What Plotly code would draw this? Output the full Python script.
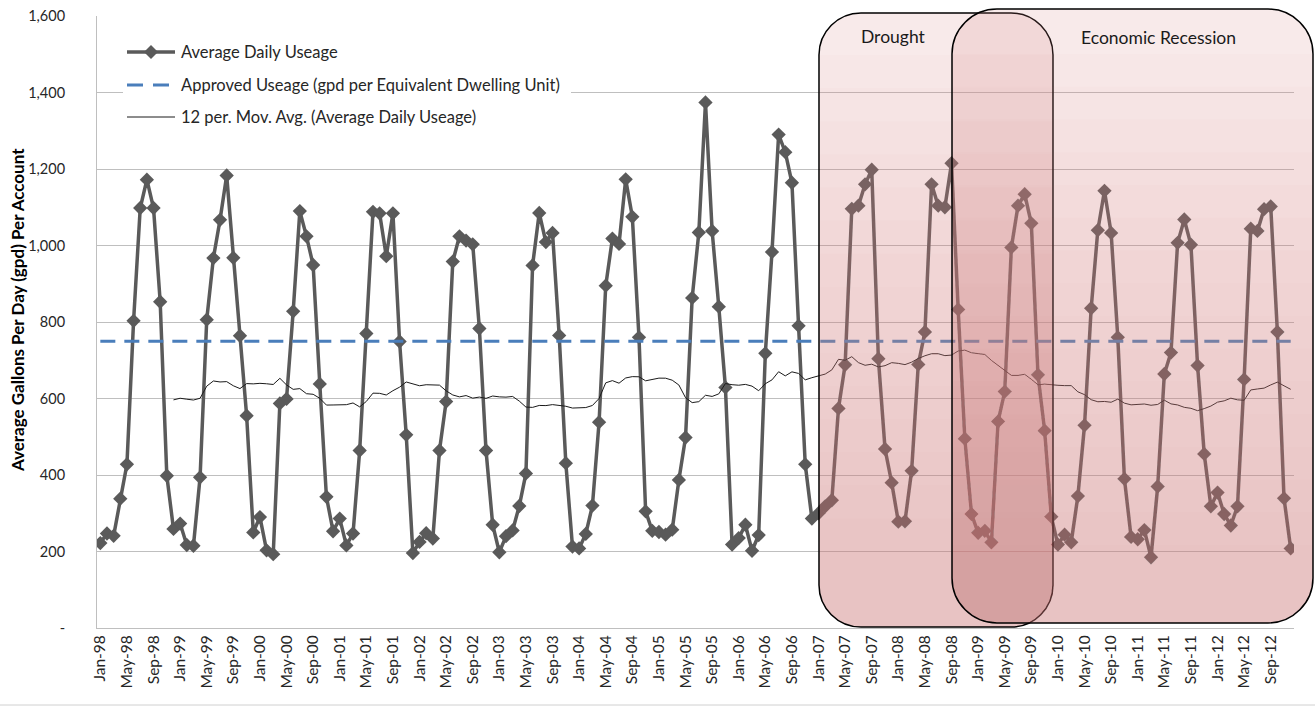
import pandas as pd
import plotly.graph_objects as go

# ---- data -------------------------------------------------------------
MONTHS = pd.date_range("1998-01-01", "2012-12-01", freq="MS").strftime("%b-%y").tolist()
TICK_LABELS = MONTHS[::4]

USAGE_1998 = [222, 247, 241, 338, 428, 803, 1098, 1172, 1098, 853, 398, 259]
USAGE_1999 = [273, 217, 215, 394, 806, 967, 1067, 1183, 968, 764, 555, 250]
USAGE_2000 = [290, 203, 193, 587, 599, 828, 1090, 1024, 949, 638, 343, 253]
USAGE_2001 = [286, 216, 247, 464, 770, 1088, 1084, 972, 1084, 749, 505, 196]
USAGE_2002 = [225, 248, 234, 464, 592, 958, 1024, 1013, 1003, 783, 464, 270]
USAGE_2003 = [198, 240, 255, 319, 404, 948, 1085, 1009, 1033, 765, 431, 213]
USAGE_2004 = [208, 246, 320, 538, 895, 1018, 1004, 1173, 1075, 760, 305, 254]
USAGE_2005 = [251, 244, 257, 387, 498, 863, 1034, 1374, 1038, 840, 629, 218]
USAGE_2006 = [235, 270, 202, 243, 718, 983, 1290, 1244, 1164, 790, 428, 286]
USAGE_2007 = [300, 318, 334, 574, 688, 1096, 1104, 1160, 1198, 704, 468, 380]
USAGE_2008 = [278, 279, 411, 689, 774, 1160, 1104, 1100, 1215, 833, 495, 298]
USAGE_2009 = [249, 254, 224, 540, 618, 995, 1104, 1134, 1058, 662, 516, 291]
USAGE_2010 = [218, 244, 224, 345, 530, 836, 1040, 1143, 1033, 760, 390, 238]
USAGE_2011 = [232, 256, 185, 370, 664, 720, 1007, 1068, 1002, 686, 455, 318]
USAGE_2012 = [354, 298, 268, 318, 650, 1044, 1038, 1095, 1102, 774, 339, 208]

USAGE = (USAGE_1998 + USAGE_1999 + USAGE_2000 + USAGE_2001 + USAGE_2002
         + USAGE_2003 + USAGE_2004 + USAGE_2005 + USAGE_2006 + USAGE_2007
         + USAGE_2008 + USAGE_2009 + USAGE_2010 + USAGE_2011 + USAGE_2012)

APPROVED_GPD = 750
APPROVED = [APPROVED_GPD] * len(MONTHS)

# 12-period moving average trendline of the usage series
MOV_AVG = pd.Series(USAGE, dtype=float).rolling(12).mean().tolist()

Y_TICKS = [0, 200, 400, 600, 800, 1000, 1200, 1400, 1600]
Y_TICK_TEXT = ["-", "200", "400", "600", "800", "1,000", "1,200", "1,400", "1,600"]

# ---- page geometry (pixels) -------------------------------------------
W, H = 1315, 707
ML, MR, MT, MB = 97, 21, 16, 79
PW = W - ML - MR
PH = H - MT - MB
BOTTOM = H - MB

FONT = "Lato"


def paper(x, y):
    return (x - ML) / PW, (BOTTOM - y) / PH


def fmt(pts):
    return " ".join(f"{paper(x, y)[0]:.5f},{paper(x, y)[1]:.5f}" for x, y in pts)


K = 0.5523


def rounded_box(x0, y0, x1, y1, r, top=None):
    """Rounded rectangle path in paper units; if top is given the top edge is flat at that y."""
    parts = []
    if top is None:
        parts.append(f"M {fmt([(x0 + r, y0)])}")
        parts.append(f"L {fmt([(x1 - r, y0)])}")
        parts.append(f"C {fmt([(x1 - r + K * r, y0), (x1, y0 + r - K * r), (x1, y0 + r)])}")
    else:
        parts.append(f"M {fmt([(x0, top)])}")
        parts.append(f"L {fmt([(x1, top)])}")
    parts.append(f"L {fmt([(x1, y1 - r)])}")
    parts.append(f"C {fmt([(x1, y1 - r + K * r), (x1 - r + K * r, y1), (x1 - r, y1)])}")
    parts.append(f"L {fmt([(x0 + r, y1)])}")
    parts.append(f"C {fmt([(x0 + r - K * r, y1), (x0, y1 - r + K * r), (x0, y1 - r)])}")
    if top is None:
        parts.append(f"L {fmt([(x0, y0 + r)])}")
        parts.append(f"C {fmt([(x0, y0 + r - K * r), (x0 + r - K * r, y0), (x0 + r, y0)])}")
    parts.append("Z")
    return " ".join(parts)


def shaded_box(x0, y0, x1, y1, r, steps=16):
    """Pink box that darkens toward the bottom, plus its black outline."""
    out = [dict(type="path", xref="paper", yref="paper", layer="above",
                path=rounded_box(x0, y0, x1, y1, r),
                fillcolor="rgba(215,140,140,0.18)", line=dict(width=0))]
    for i in range(steps):
        t = y0 + r + (y1 - 2 * r - y0) * i / steps
        out.append(dict(type="path", xref="paper", yref="paper", layer="above",
                        path=rounded_box(x0, y0, x1, y1, r, top=t),
                        fillcolor="rgba(215,140,140,0.025)", line=dict(width=0)))
    out.append(dict(type="path", xref="paper", yref="paper", layer="above",
                    path=rounded_box(x0, y0, x1, y1, r),
                    fillcolor="rgba(0,0,0,0)", line=dict(color="black", width=1.5)))
    return out


# ---- traces -----------------------------------------------------------
fig = go.Figure()
fig.add_trace(go.Scatter(
    x=MONTHS, y=USAGE, mode="lines+markers", name="Average Daily Useage",
    line=dict(color="#5a5a5a", width=3.5),
    marker=dict(symbol="diamond", size=11, color="#5a5a5a"),
    showlegend=False))
fig.add_trace(go.Scatter(
    x=MONTHS, y=APPROVED, mode="lines",
    name="Approved Useage (gpd per Equivalent Dwelling Unit)",
    line=dict(color="#4a7ebb", width=3, dash="15px,9px"), showlegend=False))
fig.add_trace(go.Scatter(
    x=MONTHS, y=MOV_AVG, mode="lines",
    name="12 per. Mov. Avg. (Average Daily Useage)",
    line=dict(color="#1a1a1a", width=1), showlegend=False, connectgaps=False))

# ---- shapes: period boxes ----------------------------------------------
shapes = []
shapes += shaded_box(819, 13, 1053, 627, 42)
shapes += shaded_box(952, 9, 1313, 623, 45)

# ---- legend drawn by hand ----------------------------------------------
shapes.append(dict(type="rect", xref="paper", yref="paper", layer="above",
                   x0=paper(123, 0)[0], x1=paper(571, 0)[0],
                   y0=paper(0, 134)[1], y1=paper(0, 36)[1],
                   fillcolor="white", line=dict(width=0)))
ROWS = [52, 85, 117]
LEGEND_TEXT = ["Average Daily Useage",
               "Approved Useage (gpd per Equivalent Dwelling Unit)",
               "12 per. Mov. Avg. (Average Daily Useage)"]
sx0, sx1 = 127, 175
shapes.append(dict(type="line", xref="paper", yref="paper", layer="above",
                   x0=paper(sx0, 0)[0], x1=paper(sx1, 0)[0],
                   y0=paper(0, ROWS[0])[1], y1=paper(0, ROWS[0])[1],
                   line=dict(color="#5a5a5a", width=3.5)))
cx, cy, d = 151, ROWS[0], 7
shapes.append(dict(type="path", xref="paper", yref="paper", layer="above",
                   path=f"M {fmt([(cx, cy - d)])} L {fmt([(cx + d, cy)])} "
                        f"L {fmt([(cx, cy + d)])} L {fmt([(cx - d, cy)])} Z",
                   fillcolor="#5a5a5a", line=dict(width=0)))
shapes.append(dict(type="line", xref="paper", yref="paper", layer="above",
                   x0=paper(sx0, 0)[0], x1=paper(170, 0)[0],
                   y0=paper(0, ROWS[1])[1], y1=paper(0, ROWS[1])[1],
                   line=dict(color="#4a7ebb", width=3, dash="16px,10px")))
shapes.append(dict(type="line", xref="paper", yref="paper", layer="above",
                   x0=paper(sx0, 0)[0], x1=paper(sx1, 0)[0],
                   y0=paper(0, ROWS[2])[1], y1=paper(0, ROWS[2])[1],
                   line=dict(color="#1a1a1a", width=1)))

# chart-area bottom border
shapes.append(dict(type="line", xref="paper", yref="paper", layer="above",
                   x0=paper(0, 0)[0], x1=paper(W, 0)[0],
                   y0=paper(0, 705)[1], y1=paper(0, 705)[1],
                   line=dict(color="#d0d0d0", width=1)))

annotations = []
for yy, txt in zip(ROWS, LEGEND_TEXT):
    px, py = paper(179, yy)
    annotations.append(dict(x=px, y=py, xref="paper", yref="paper", text=txt,
                            showarrow=False, xanchor="left", yanchor="middle",
                            font=dict(family=FONT, size=16.5, color="#262626")))

for txt, xc, yc in [("Drought", 893, 37), ("Economic Recession", 1158, 38)]:
    px, py = paper(xc, yc)
    annotations.append(dict(x=px, y=py, xref="paper", yref="paper", text=txt,
                            showarrow=False, xanchor="center", yanchor="middle",
                            font=dict(family=FONT, size=17.5, color="#1a1a1a")))

px, py = paper(17, 310)
annotations.append(dict(x=px, y=py, xref="paper", yref="paper",
                        text="<b>Average Gallons Per Day (gpd) Per Account</b>",
                        textangle=-90, showarrow=False, xanchor="center", yanchor="middle",
                        font=dict(family=FONT, size=17, color="#000000")))

fig.update_layout(
    width=W, height=H,
    margin=dict(l=ML, r=MR, t=MT, b=MB, autoexpand=False),
    paper_bgcolor="white", plot_bgcolor="white",
    font=dict(family=FONT, size=14, color="#262626"),
    shapes=shapes, annotations=annotations,
    showlegend=False,
)
fig.update_xaxes(
    type="category", categoryorder="array", categoryarray=MONTHS,
    range=[-0.5, len(MONTHS) - 0.5],
    tickmode="array", tickvals=TICK_LABELS, ticktext=TICK_LABELS,
    tickangle=-90, tickfont=dict(family=FONT, size=15.5, color="#262626"),
    showgrid=False, showline=True, linecolor="#bfbfbf", linewidth=1,
    ticks="", automargin=False,
)
fig.update_yaxes(
    range=[0, 1600], tickmode="array", tickvals=Y_TICKS, ticktext=Y_TICK_TEXT,
    tickfont=dict(family=FONT, size=14.5, color="#262626"),
    showgrid=True, gridcolor="#bfbfbf", gridwidth=1,
    showline=True, linecolor="#bfbfbf", linewidth=1,
    zeroline=False, ticks="", ticklabelstandoff=28, automargin=False,
)

fig.write_html("out.html")
